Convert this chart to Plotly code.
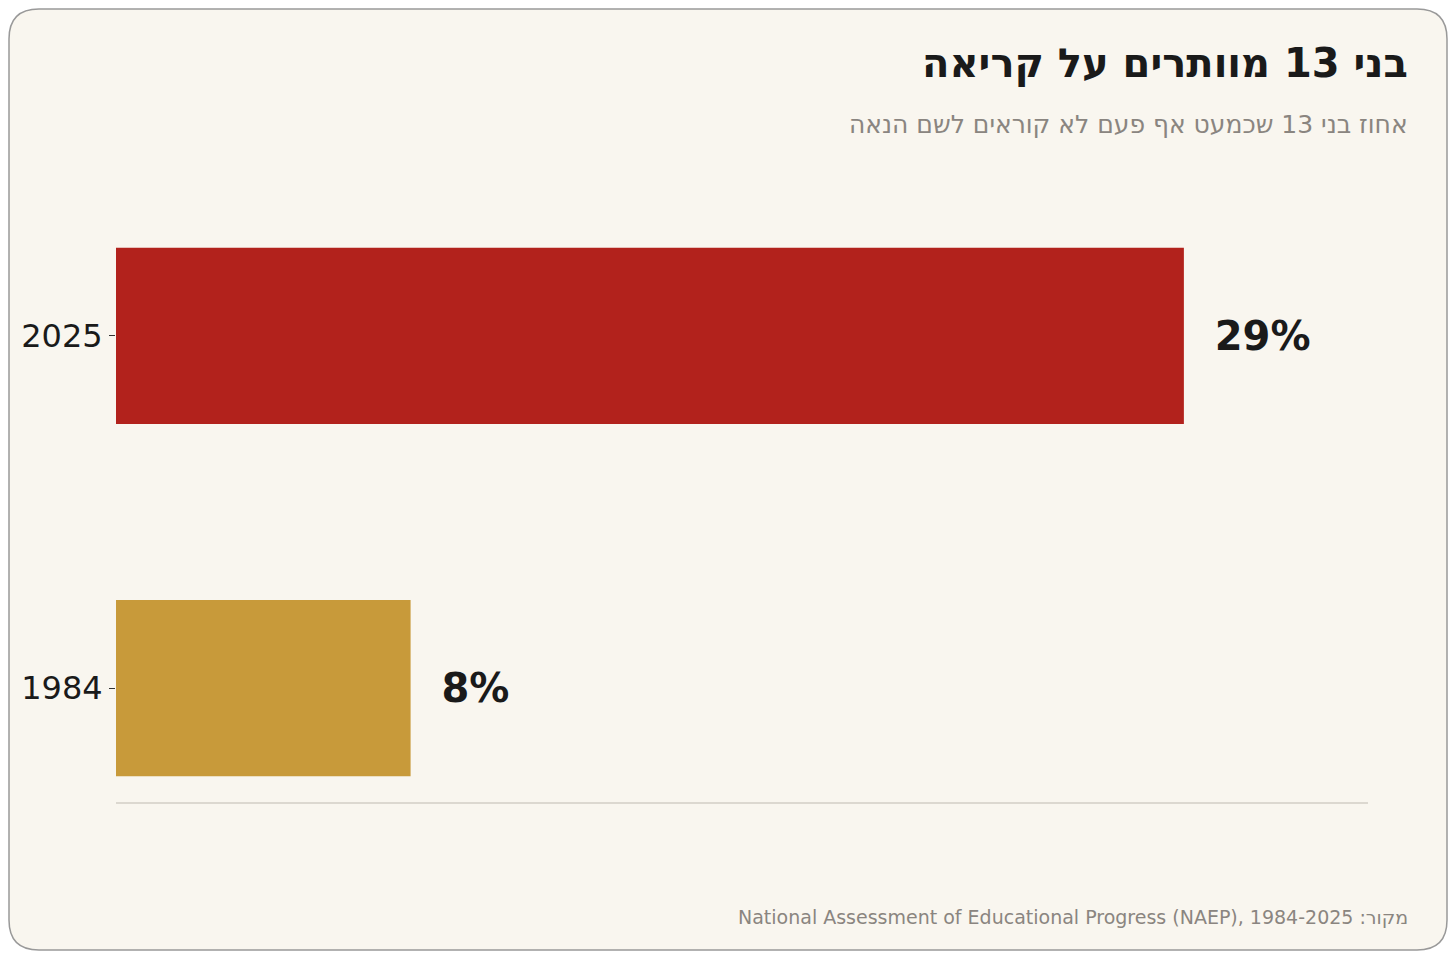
import plotly.graph_objects as go

years = ["1984", "2025"]
values = [8, 29]
colors = ["#c89a3a", "#b2221c"]
labels = ["  8%", "  29%"]

W, H = 1456, 959
OFF = 8  # browser body margin
L, R, T, B = 116 - OFF, 1368 - OFF, 222 - OFF, 802 - OFF
PW, PH = R - L, B - T


def px(x):
    return (x - OFF - L) / PW


def py(y):
    return (B - (y - OFF)) / PH


fig = go.Figure(go.Bar(
    x=values, y=years, orientation="h", marker=dict(color=colors, line=dict(width=0)),
    text=labels, textposition="outside", cliponaxis=False,
    textfont=dict(family="DejaVu Sans", size=40, color="#1a1a1a", weight="bold"),
))

x0, x1, y0, y1 = px(OFF + 1), px(W - OFF - 1), py(OFF + 1), py(H - OFF - 1)
rx, ry = 30 / PW, 30 / PH
border = (f"M {x0+rx},{y0} L {x1-rx},{y0} Q {x1},{y0} {x1},{y0-ry} L {x1},{y1+ry} "
          f"Q {x1},{y1} {x1-rx},{y1} L {x0+rx},{y1} Q {x0},{y1} {x0},{y1+ry} "
          f"L {x0},{y0-ry} Q {x0},{y0} {x0+rx},{y0} Z")

fig.update_layout(
    width=W - 2 * OFF, height=H - 2 * OFF,
    paper_bgcolor="white", plot_bgcolor="rgba(0,0,0,0)",
    margin=dict(l=L, r=W - 2 * OFF - R, t=T, b=H - 2 * OFF - B),
    bargap=0.5, showlegend=False,
    font=dict(family="DejaVu Sans"),
    xaxis=dict(range=[0, 34], showgrid=False, zeroline=False, showticklabels=False,
               showline=True, linecolor="#dcd8d0", linewidth=2),
    yaxis=dict(type="category", range=[-0.323, 1.323], showgrid=False,
               ticks="outside", ticklen=6, tickcolor="#333",
               tickfont=dict(size=32, color="#1a1a1a")),
    shapes=[dict(type="path", path=border, xref="paper", yref="paper",
                 fillcolor="#f9f6ef", line=dict(color="#999", width=1.5), layer="below")],
    annotations=[
        dict(text="<b>בני 13 מוותרים על קריאה</b>", x=px(1410), y=py(63),
             xref="paper", yref="paper", xanchor="right", yanchor="middle", showarrow=False,
             font=dict(size=40, color="#1a1a1a")),
        dict(text="אחוז בני 13 שכמעט אף פעם לא קוראים לשם הנאה", x=px(1410), y=py(125),
             xref="paper", yref="paper", xanchor="right", yanchor="middle", showarrow=False,
             font=dict(size=25, color="#8a8580")),
        dict(text="National Assessment of Educational Progress (NAEP), 1984-2025 :\u200eמקור",
             x=px(1410), y=py(917), xref="paper", yref="paper", xanchor="right",
             yanchor="middle", showarrow=False, font=dict(size=19, color="#8a8580")),
    ],
)
fig.write_html("out.html")
